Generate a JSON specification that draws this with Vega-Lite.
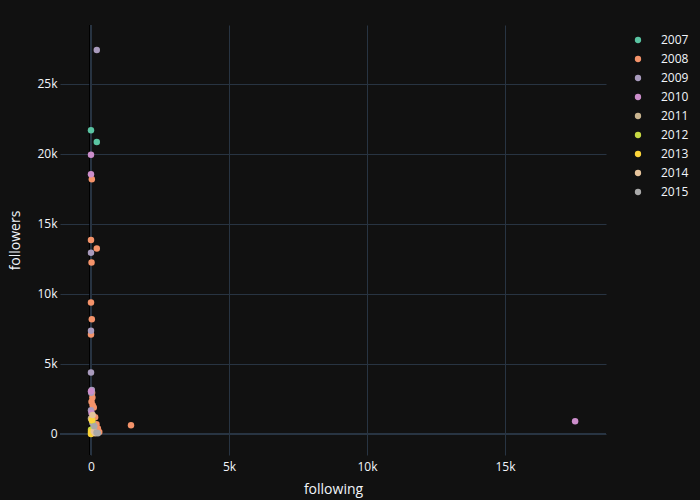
{
  "$schema": "https://vega.github.io/schema/vega-lite/v6.json",
  "autosize": {"type": "none"},
  "width": 546,
  "height": 430,
  "padding": {"left": 60, "top": 25, "right": 94, "bottom": 45},
  "background": "#111111",
  "config": {
    "view": {"stroke": null},
    "font": "Open Sans",
    "axis": {
      "labelFont": "Open Sans",
      "titleFont": "Open Sans",
      "labelColor": "#f2f5fa",
      "titleColor": "#f2f5fa",
      "labelFontSize": 12,
      "titleFontSize": 14,
      "titleFontWeight": "normal",
      "grid": true,
      "gridColor": "#283442",
      "gridWidth": 1,
      "domain": false,
      "ticks": false
    },
    "legend": {
      "labelFont": "Open Sans",
      "labelColor": "#f2f5fa",
      "labelFontSize": 12
    }
  },
  "data": {
    "values": [
      {"following": 0, "followers": 21700, "year": "2007"},
      {"following": 210, "followers": 20850, "year": "2007"},
      {"following": 30, "followers": 18200, "year": "2008"},
      {"following": 0, "followers": 13850, "year": "2008"},
      {"following": 210, "followers": 13250, "year": "2008"},
      {"following": 20, "followers": 12250, "year": "2008"},
      {"following": 0, "followers": 9400, "year": "2008"},
      {"following": 30, "followers": 8200, "year": "2008"},
      {"following": 0, "followers": 7100, "year": "2008"},
      {"following": 40, "followers": 2950, "year": "2008"},
      {"following": 50, "followers": 2600, "year": "2008"},
      {"following": 20, "followers": 2300, "year": "2008"},
      {"following": 60, "followers": 2050, "year": "2008"},
      {"following": 100, "followers": 1900, "year": "2008"},
      {"following": 150, "followers": 1200, "year": "2008"},
      {"following": 200, "followers": 700, "year": "2008"},
      {"following": 250, "followers": 400, "year": "2008"},
      {"following": 300, "followers": 150, "year": "2008"},
      {"following": 100, "followers": 300, "year": "2008"},
      {"following": 1450, "followers": 620, "year": "2008"},
      {"following": 210, "followers": 27430, "year": "2009"},
      {"following": 0, "followers": 12950, "year": "2009"},
      {"following": 0, "followers": 7380, "year": "2009"},
      {"following": 0, "followers": 4400, "year": "2009"},
      {"following": 30, "followers": 3150, "year": "2009"},
      {"following": 10, "followers": 2950, "year": "2009"},
      {"following": 0, "followers": 1700, "year": "2009"},
      {"following": 50, "followers": 800, "year": "2009"},
      {"following": 0, "followers": 19950, "year": "2010"},
      {"following": 0, "followers": 18550, "year": "2010"},
      {"following": 17540, "followers": 910, "year": "2010"},
      {"following": 20, "followers": 1500, "year": "2010"},
      {"following": 0, "followers": 3050, "year": "2010"},
      {"following": 0, "followers": 1100, "year": "2011"},
      {"following": 100, "followers": 500, "year": "2011"},
      {"following": 50, "followers": 200, "year": "2011"},
      {"following": 50, "followers": 950, "year": "2012"},
      {"following": 0, "followers": 300, "year": "2012"},
      {"following": 0, "followers": 0, "year": "2013"},
      {"following": 0, "followers": 150, "year": "2013"},
      {"following": 30, "followers": 1000, "year": "2013"},
      {"following": 60, "followers": 1350, "year": "2014"},
      {"following": 100, "followers": 200, "year": "2014"},
      {"following": 150, "followers": 50, "year": "2014"},
      {"following": 120, "followers": 550, "year": "2015"},
      {"following": 200, "followers": 100, "year": "2015"},
      {"following": 250, "followers": 50, "year": "2015"}
    ]
  },
  "layer": [
    {
      "mark": {"type": "rule", "color": "#283442", "strokeWidth": 2},
      "encoding": {"x": {"datum": 0, "type": "quantitative", "scale": {"domain": [-1123, 18659], "nice": false}}}
    },
    {
      "mark": {"type": "rule", "color": "#283442", "strokeWidth": 2},
      "encoding": {"y": {"datum": 0, "type": "quantitative", "scale": {"domain": [-1500, 29214], "nice": false}}}
    },
    {
      "mark": {"type": "point", "filled": true, "opacity": 1, "size": 42},
      "encoding": {
        "x": {
          "field": "following",
          "type": "quantitative",
          "title": "following",
          "scale": {"domain": [-1123, 18659], "nice": false, "zero": false},
          "axis": {"grid": true, "values": [0, 5000, 10000, 15000], "labelExpr": "datum.value == 0 ? '0' : (datum.value / 1000) + 'k'", "labelPadding": 6, "titlePadding": 10}
        },
        "y": {
          "field": "followers",
          "type": "quantitative",
          "title": "followers",
          "scale": {"domain": [-1500, 29214], "nice": false, "zero": false},
          "axis": {"grid": true, "values": [0, 5000, 10000, 15000, 20000, 25000], "labelExpr": "datum.value == 0 ? '0' : (datum.value / 1000) + 'k'", "labelPadding": 3, "titlePadding": 14}
        },
        "color": {
          "field": "year",
          "type": "nominal",
          "title": null,
          "scale": {
            "domain": ["2007", "2008", "2009", "2010", "2011", "2012", "2013", "2014", "2015"],
            "range": ["#5ac4a2", "#f4936a", "#a99bbd", "#cc8ecb", "#c9b48f", "#c6d843", "#fcd439", "#e6c49c", "#a9a9a9"]
          },
          "legend": {
            "orient": "none",
            "legendX": 572,
            "legendY": 9,
            "padding": 0,
            "symbolSize": 40,
            "symbolType": "circle",
            "labelOffset": 17,
            "rowPadding": 7
          }
        }
      }
    }
  ]
}
